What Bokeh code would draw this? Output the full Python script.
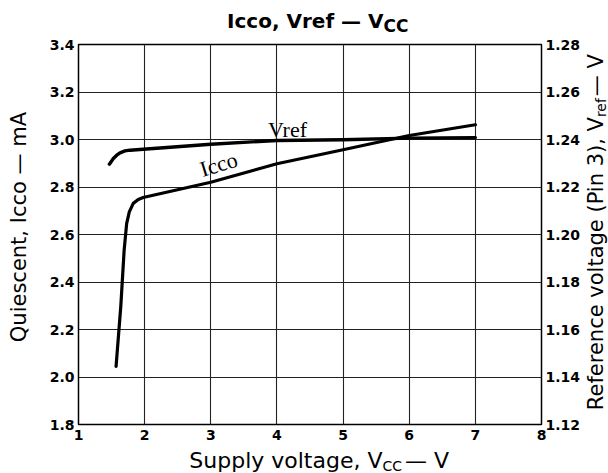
import math
from bokeh.plotting import figure
from bokeh.layouts import column, row
from bokeh.models import Range1d, LinearAxis, FixedTicker, PrintfTickFormatter, Label
from bokeh.embed import file_html
from bokeh.resources import INLINE
from bokeh.core.properties import value

# ---- data ----
vcc_icco = [1.568, 1.64, 1.69, 1.728, 1.768, 1.828, 1.903, 1.978, 3.0, 4.0, 5.0, 6.0, 7.0]
icco_ma = [2.045, 2.30, 2.534, 2.646, 2.695, 2.731, 2.747, 2.756, 2.82, 2.898, 2.957, 3.017, 3.062]

vcc_vref = [1.467, 1.527, 1.578, 1.628, 1.703, 1.778, 1.978, 3.0, 4.0, 5.0, 6.0, 7.0]
vref_v = [1.2296, 1.2320, 1.2334, 1.2344, 1.2352, 1.2355, 1.2359, 1.2380, 1.2396, 1.2399, 1.2406, 1.2408]

x_ticks = [1, 2, 3, 4, 5, 6, 7, 8]
icco_ticks = [1.8, 2.0, 2.2, 2.4, 2.6, 2.8, 3.0, 3.2, 3.4]
vref_ticks = [1.12, 1.14, 1.16, 1.18, 1.20, 1.22, 1.24, 1.26, 1.28]

title_main, title_sub = "Icco, Vref \u2014 V", "CC"
x_main, x_sub, x_tail = "Supply voltage, V", "CC", "\u2014 V"
yl_text = "Quiescent, Icco \u2014 mA"
yr_main, yr_sub, yr_tail = "Reference voltage (Pin 3), V", "ref", "\u2014 V"

SANS = "DejaVu Sans"
SERIF = "Liberation Serif"

# ---- page layout (pixels) ----
W, H = 608, 473
TOP_H, BOT_H = 35, 27
LEFT_W, RIGHT_W = 40, 25
MID_H = H - TOP_H - BOT_H
MAIN_W = W - LEFT_W - RIGHT_W
FRAME_L, FRAME_R, FRAME_T, FRAME_B = 78, 543, 44, 424
SHIFT = 0.32  # em: measured offset between requested and drawn baseline


def strip(w, h):
    f = figure(width=w, height=h, output_backend="svg", toolbar_location=None,
               x_range=Range1d(0, w), y_range=Range1d(0, h), min_border=0,
               x_axis_location=None, y_axis_location=None)
    f.xgrid.visible = False
    f.ygrid.visible = False
    f.outline_line_color = None
    f.background_fill_color = "white"
    f.border_fill_color = "white"
    return f


def put(f, x, y, text, size, align, bold=False, rotated=False):
    # x, y: desired baseline anchor in strip-local pixels (y up)
    s = SHIFT * size
    if rotated:
        x -= s
    else:
        y += s
    f.text(x=[x], y=[y], text=[text], text_font=value(SANS), text_font_size=value(f"{size}px"),
           text_font_style="bold" if bold else "normal", text_align=align,
           text_baseline="alphabetic", angle=(math.pi / 2 if rotated else 0.0), text_color="black")


# ---- main plot ----
p = figure(width=MAIN_W, height=MID_H, output_backend="svg", toolbar_location=None,
           x_range=Range1d(x_ticks[0], x_ticks[-1]),
           y_range=Range1d(icco_ticks[0], icco_ticks[-1]),
           min_border_left=FRAME_L - LEFT_W, min_border_right=(W - RIGHT_W) - FRAME_R,
           min_border_top=FRAME_T - TOP_H, min_border_bottom=(H - BOT_H) - FRAME_B)
p.extra_y_ranges = {"vref": Range1d(vref_ticks[0], vref_ticks[-1])}

p.background_fill_color = "white"
p.border_fill_color = "white"
p.outline_line_color = "black"
p.outline_line_width = 1.5

p.xaxis.ticker = FixedTicker(ticks=x_ticks)
p.yaxis.ticker = FixedTicker(ticks=icco_ticks)
p.yaxis.formatter = PrintfTickFormatter(format="%.1f")
right = LinearAxis(y_range_name="vref", ticker=FixedTicker(ticks=vref_ticks),
                   formatter=PrintfTickFormatter(format="%.2f"))
p.add_layout(right, "right")

for ax in [p.xaxis[0], p.yaxis[0], right]:
    ax.axis_line_color = None
    ax.major_tick_line_color = None
    ax.minor_tick_line_color = None
    ax.major_tick_out = 0
    ax.major_tick_in = 0
    ax.major_label_text_font = SANS
    ax.major_label_text_font_style = "bold"
    ax.major_label_text_font_size = "14px"
    ax.major_label_text_color = "black"
p.xaxis.major_label_standoff = 5
p.yaxis[0].major_label_standoff = 4
right.major_label_standoff = 4

p.xgrid.ticker = FixedTicker(ticks=x_ticks)
p.ygrid.ticker = FixedTicker(ticks=icco_ticks)
for g in [p.xgrid[0], p.ygrid[0]]:
    g.grid_line_color = "#222222"
    g.grid_line_width = 1.1

p.line(vcc_icco, icco_ma, line_color="black", line_width=3.2, line_join="round", line_cap="round")
p.line(vcc_vref, vref_v, y_range_name="vref", line_color="black", line_width=3.4,
       line_join="round", line_cap="round")

LBL = 22
ang = 0.30
p.add_layout(Label(x=4.16, y=3.013, y_offset=SHIFT * LBL, text="Vref", text_font=SERIF,
                   text_font_size=f"{LBL}px", text_align="center", text_baseline="alphabetic",
                   text_color="black"))
p.add_layout(Label(x=3.15, y=2.867, x_offset=-SHIFT * LBL * math.sin(ang),
                   y_offset=SHIFT * LBL * math.cos(ang), text="Icco", text_font=SERIF,
                   text_font_size=f"{LBL}px", angle=ang, text_align="center",
                   text_baseline="alphabetic", text_color="black"))

# ---- title strip (page y -> local y = TOP_H - y) ----
top = strip(W, TOP_H)
put(top, 383, TOP_H - 26.7, title_main, 20, "right", bold=True)
put(top, 383, TOP_H - 31.0, title_sub, 17, "left", bold=True)

# ---- x-axis title strip (local y = H - page y) ----
bot = strip(W, BOT_H)
put(bot, 382, H - 467.0, x_main, 22, "right")
put(bot, 382, H - 469.5, x_sub, 14, "left")
put(bot, 404.5, H - 467.0, x_tail, 22, "left")

# ---- left axis title strip (local y = bottom - page y) ----
YB = TOP_H + MID_H
lft = strip(LEFT_W, MID_H)
put(lft, 25.3, YB - 232.5, yl_text, 21, "center", rotated=True)

# ---- right axis title strip ----
rgt = strip(RIGHT_W, MID_H)
RX0 = W - RIGHT_W
put(rgt, 602.7 - RX0, YB - 113.5, yr_main, 21, "right", rotated=True)
put(rgt, 604.5 - RX0, YB - 113.5, yr_sub, 14, "left", rotated=True)
put(rgt, 602.7 - RX0, YB - 91.0, yr_tail, 21, "left", rotated=True)

layout = column(top, row(lft, p, rgt), bot)
open("out.html", "w").write(file_html(layout, INLINE))
